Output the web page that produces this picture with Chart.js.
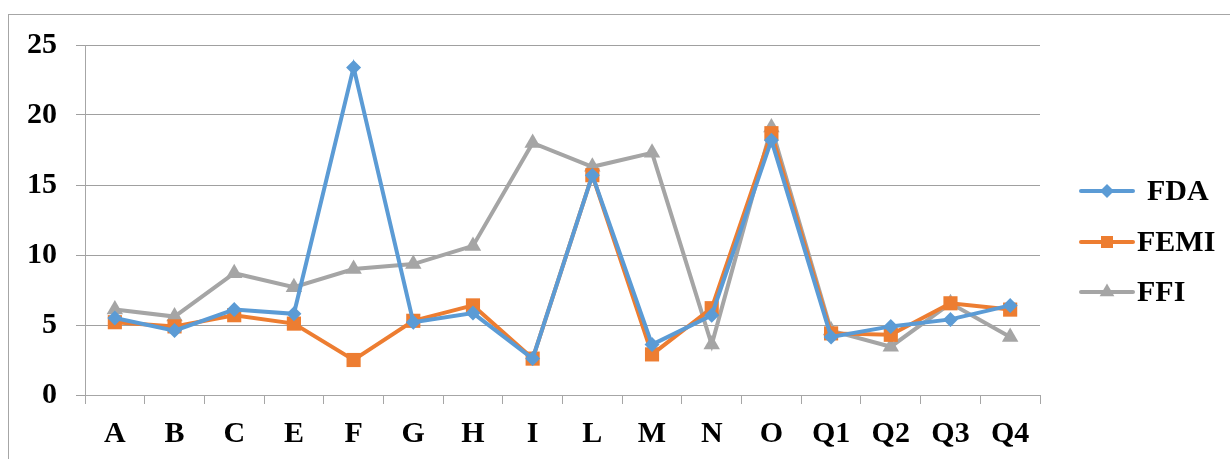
<!DOCTYPE html>
<html>
<head>
<meta charset="utf-8">
<script src="https://cdn.jsdelivr.net/npm/chart.js@4/dist/chart.umd.min.js"></script>
<style>
  html, body { margin: 0; padding: 0; background: #fff; }
  #wrap { position: relative; width: 1230px; height: 459px; overflow: hidden; }
  #frame { position: absolute; left: 8px; top: 14px; width: 1300px; height: 500px;
           border-left: 1px solid #a6a6a6; border-top: 1px solid #a6a6a6; }
  #c { position: absolute; left: 0; top: 0; }
</style>
</head>
<body>
<div id="wrap">
  <div id="frame"></div>
  <canvas id="c" width="1230" height="459"></canvas>
</div>
<script>
// Categories along the x axis
const categories = ['A', 'B', 'C', 'E', 'F', 'G', 'H', 'I', 'L', 'M', 'N', 'O', 'Q1', 'Q2', 'Q3', 'Q4'];

// Series values
const fda  = [5.5, 4.6, 6.1, 5.8, 23.4, 5.2, 5.85, 2.6, 15.7, 3.6, 5.7, 18.2, 4.15, 4.9, 5.4, 6.4];
const femi = [5.2, 4.9, 5.7, 5.1, 2.5, 5.3, 6.4, 2.6, 15.7, 2.9, 6.2, 18.7, 4.4, 4.3, 6.55, 6.1];
const ffi  = [6.1, 5.6, 8.7, 7.7, 9.0, 9.35, 10.65, 18.0, 16.3, 17.3, 3.6, 19.1, 4.6, 3.45, 6.55, 4.15];

// Series names
const seriesNames = ['FDA', 'FEMI', 'FFI'];

// Y axis tick values
const yTicks = [0, 5, 10, 15, 20, 25];

const COLORS = ['#5B9BD5', '#ED7D31', '#A5A5A5'];
const STYLES = ['rectRot', 'rect', 'triangle'];
const RADII = [7.5, 10, 9.5];
const LEGEND_RADII = [7, 8.5, 8.5];
const FONT = '"Liberation Serif", "Times New Roman", serif';
const FONT_SIZE = 30;

function makeSet(name, data, i) {
  return {
    label: name,
    data: data,
    borderColor: COLORS[i],
    backgroundColor: COLORS[i],
    borderWidth: 4,
    pointStyle: STYLES[i],
    pointRadius: RADII[i],
    pointBorderWidth: 0,
    pointHoverRadius: RADII[i],
    tension: 0,
    clip: false
  };
}

// Line-with-marker legend at the right of the plot
const sideLegend = {
  id: 'sideLegend',
  afterDraw(chart) {
    const ctx = chart.ctx;
    const x0 = 1081, x1 = 1133;
    const rows = [191, 242, 292];
    const textX = [1147, 1137, 1137];
    ctx.save();
    chart.data.datasets.forEach((ds, i) => {
      const y = rows[i];
      ctx.strokeStyle = ds.borderColor;
      ctx.lineWidth = 4;
      ctx.lineCap = 'round';
      ctx.beginPath();
      ctx.moveTo(x0, y);
      ctx.lineTo(x1, y);
      ctx.stroke();
      ctx.fillStyle = ds.backgroundColor;
      Chart.helpers.drawPoint(ctx, {
        pointStyle: ds.pointStyle,
        radius: LEGEND_RADII[i],
        borderWidth: 0,
        rotation: 0
      }, (x0 + x1) / 2, y);
      ctx.fillStyle = '#000';
      ctx.font = 'bold ' + FONT_SIZE + 'px ' + FONT;
      ctx.textBaseline = 'middle';
      ctx.textAlign = 'left';
      ctx.fillText(ds.label, textX[i], y + 1);
    });
    ctx.restore();
  }
};

new Chart(document.getElementById('c'), {
  type: 'line',
  data: {
    labels: categories,
    datasets: [
      makeSet(seriesNames[0], fda, 0),
      makeSet(seriesNames[1], femi, 1),
      makeSet(seriesNames[2], ffi, 2)
    ]
  },
  options: {
    responsive: false,
    animation: false,
    layout: { padding: { left: 0, right: 190, top: 45, bottom: 0 } },
    plugins: {
      legend: { display: false },
      tooltip: { enabled: false }
    },
    scales: {
      x: {
        offset: true,
        grid: {
          offset: true,
          drawOnChartArea: false,
          drawTicks: true,
          tickLength: 9,
          color: '#a6a6a6',
          lineWidth: 1
        },
        border: { display: true, color: '#a6a6a6', width: 1 },
        ticks: {
          color: '#000',
          font: { family: FONT, size: FONT_SIZE, weight: 'bold' },
          padding: 12,
          maxRotation: 0,
          autoSkip: false
        },
        afterFit(scale) { scale.height = 64; }
      },
      y: {
        min: 0,
        max: 25,
        afterBuildTicks(scale) { scale.ticks = yTicks.map(v => ({ value: v })); },
        grid: {
          color: '#a0a0a0',
          lineWidth: 1,
          drawTicks: true,
          tickLength: 9
        },
        border: { display: true, color: '#a6a6a6', width: 1 },
        ticks: {
          color: '#000',
          font: { family: FONT, size: FONT_SIZE, weight: 'bold' },
          padding: 19
        },
        afterFit(scale) { scale.width = 85; }
      }
    }
  },
  plugins: [sideLegend]
});
</script>
</body>
</html>
